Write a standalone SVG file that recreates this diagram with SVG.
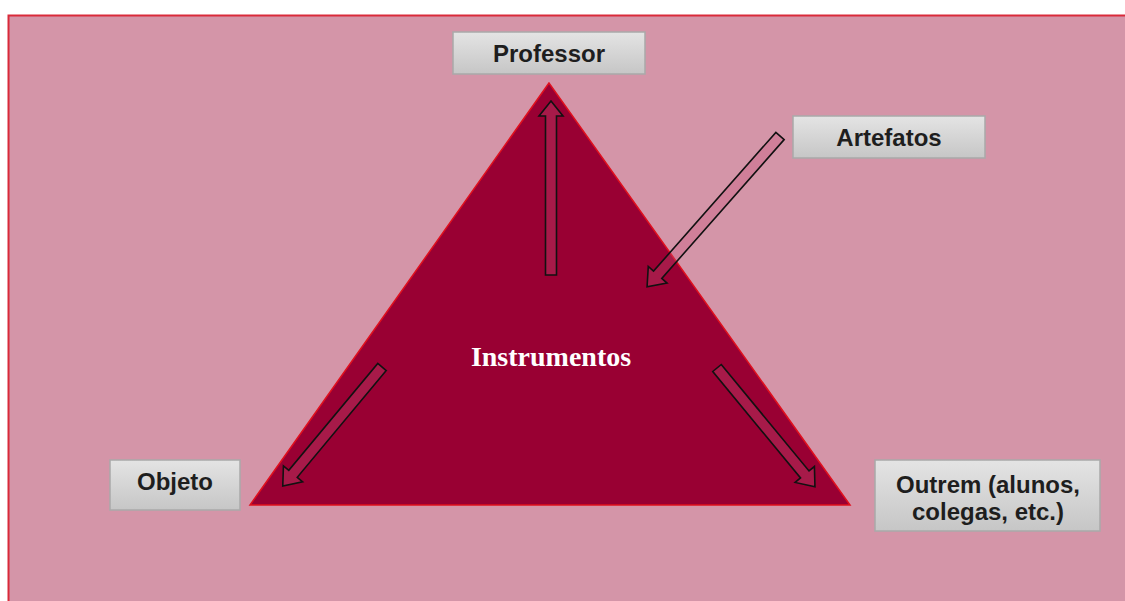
<svg xmlns="http://www.w3.org/2000/svg" width="1125" height="601" viewBox="0 0 1125 601">
<defs>
<linearGradient id="boxg" x1="0" y1="0" x2="0" y2="1">
<stop offset="0" stop-color="#e4e4e4"/>
<stop offset="1" stop-color="#c6c6c6"/>
</linearGradient>
</defs>
<style>
.box{fill:url(#boxg);stroke:#a9a9a9;stroke-width:1.5}
.lbl{font-family:"Liberation Sans",Arial,sans-serif;font-weight:bold;font-size:24px;fill:#1e1e1e;text-anchor:middle}
.arr{fill:#c8517a;fill-opacity:0.32;stroke:#111;stroke-width:1.6;stroke-linejoin:miter}
</style>
<rect x="0" y="0" width="1125" height="601" fill="#ffffff"/>
<rect x="8.5" y="15.5" width="1130" height="600" fill="#d495a8" stroke="#d92a3a" stroke-width="2"/>
<g id="triangle">
<polygon points="549,83 250,505 850,505" fill="#990033" stroke="#e0101e" stroke-width="1.5"/>
<text x="551" y="366" text-anchor="middle" font-family="'Liberation Serif','Times New Roman',serif" font-weight="bold" font-size="28" fill="#ffffff">Instrumentos</text>
</g>
<g id="connectors">
<path class="arr" transform="translate(551,275) rotate(-90)" d="M0,-5.5 L159,-5.5 L159,-12 L174,0 L159,12 L159,5.5 L0,5.5 Z"/>
<path class="arr" transform="translate(780,136) rotate(131.4)" d="M0,-5.5 L185,-5.5 L185,-12.5 L201,0 L185,12.5 L185,5.5 L0,5.5 Z"/>
<path class="arr" transform="translate(382,367) rotate(129.8)" d="M0,-5.5 L139,-5.5 L139,-12.5 L155,0 L139,12.5 L139,5.5 L0,5.5 Z"/>
<path class="arr" transform="translate(717,368) rotate(50.5)" d="M0,-5.5 L138,-5.5 L138,-12.5 L154,0 L138,12.5 L138,5.5 L0,5.5 Z"/>
</g>
<g id="professor">
<rect class="box" x="453" y="32" width="192" height="42"/>
<text class="lbl" x="549" y="62">Professor</text>
</g>
<g id="artefatos">
<rect class="box" x="793" y="116" width="192" height="42"/>
<text class="lbl" x="889" y="146">Artefatos</text>
</g>
<g id="objeto">
<rect class="box" x="110" y="460" width="130" height="50"/>
<text class="lbl" x="175" y="490">Objeto</text>
</g>
<g id="outrem">
<rect class="box" x="875" y="460" width="225" height="71"/>
<text class="lbl" x="988" y="493">Outrem (alunos,</text>
<text class="lbl" x="988" y="520">colegas, etc.)</text>
</g>
</svg>
